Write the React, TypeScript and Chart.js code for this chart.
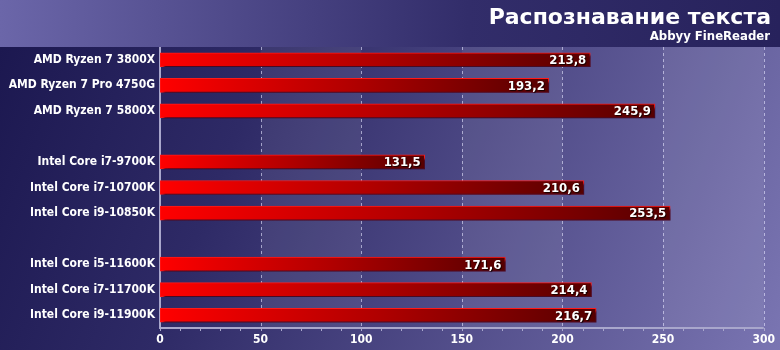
import React, { useEffect, useRef } from "react";
import { Chart, registerables } from "chart.js";

Chart.register(...registerables);

const categories = [
  "AMD Ryzen 7 3800X",
  "AMD Ryzen 7 Pro 4750G",
  "AMD Ryzen 7 5800X",
  "",
  "Intel Core i7-9700K",
  "Intel Core i7-10700K",
  "Intel Core i9-10850K",
  "",
  "Intel Core i5-11600K",
  "Intel Core i7-11700K",
  "Intel Core i9-11900K",
];
const values: (number | null)[] = [213.8, 193.2, 245.9, null, 131.5, 210.6, 253.5, null, 171.6, 214.4, 216.7];
const xTicks = [0, 50, 100, 150, 200, 250, 300];
const minorStep = 10;
const titleText = "Распознавание текста";
const subtitleText = "Abbyy FineReader";

const FONT = "'DejaVu Sans Condensed', 'DejaVu Sans', Verdana, sans-serif";
const TITLE_FONT = "'DejaVu Sans', Verdana, sans-serif";
const W = 780;
const H = 350;
const HEADER = 47;

const bgPlugin = {
  id: "bgPlugin",
  beforeDraw(chart: any) {
    const { ctx, chartArea } = chart;
    const xs = chart.scales.x;
    ctx.save();
    // body gradient
    const g = ctx.createLinearGradient(0, HEADER, W, H);
    g.addColorStop(0, "#1c1850");
    g.addColorStop(0.3, "#2e2a66");
    g.addColorStop(1, "#7a75b2");
    ctx.fillStyle = g;
    ctx.fillRect(0, 0, W, H);
    // header
    const hg = ctx.createLinearGradient(0, 0, W, 0);
    hg.addColorStop(0, "#6b66a9");
    hg.addColorStop(0.6, "#322d6a");
    hg.addColorStop(1, "#27225c");
    ctx.fillStyle = hg;
    ctx.fillRect(0, 0, W, HEADER);
    // stripes
    ctx.fillStyle = "rgba(255,255,255,0.07)";
    for (let i = 1; i < xTicks.length; i += 2) {
      const a = xs.getPixelForValue(xTicks[i]);
      const b = xs.getPixelForValue(xTicks[i + 1] ?? xTicks[i]);
      ctx.fillRect(a, chartArea.top, b - a, chartArea.bottom - chartArea.top);
    }
    // dashed grid lines
    ctx.strokeStyle = "rgba(230,230,255,0.6)";
    ctx.lineWidth = 1;
    ctx.setLineDash([3, 3]);
    for (let i = 1; i < xTicks.length; i++) {
      const x = Math.round(xs.getPixelForValue(xTicks[i])) + 0.5;
      ctx.beginPath();
      ctx.moveTo(x, chartArea.top);
      ctx.lineTo(x, chartArea.bottom);
      ctx.stroke();
    }
    ctx.setLineDash([]);
    // axes
    ctx.strokeStyle = "#a9a7cc";
    ctx.lineWidth = 2;
    const x0 = Math.round(xs.getPixelForValue(0));
    ctx.beginPath();
    ctx.moveTo(x0, chartArea.top);
    ctx.lineTo(x0, chartArea.bottom + 1);
    ctx.stroke();
    ctx.beginPath();
    ctx.moveTo(x0 - 1, chartArea.bottom);
    ctx.lineTo(chartArea.right, chartArea.bottom);
    ctx.stroke();
    // minor ticks
    ctx.lineWidth = 1;
    for (let v = 0; v <= xTicks[xTicks.length - 1]; v += minorStep) {
      const x = Math.round(xs.getPixelForValue(v)) + 0.5;
      ctx.beginPath();
      ctx.moveTo(x, chartArea.bottom);
      ctx.lineTo(x, chartArea.bottom + 3);
      ctx.stroke();
    }
    // titles
    ctx.fillStyle = "#ffffff";
    ctx.textAlign = "right";
    ctx.textBaseline = "alphabetic";
    ctx.font = `bold 22px ${TITLE_FONT}`;
    ctx.fillText(titleText, 771, 24);
    ctx.font = `bold 13px ${FONT}`;
    ctx.fillText(subtitleText, 770, 40);
    ctx.restore();
  },
  beforeDatasetDraw(chart: any) {
    const ctx = chart.ctx;
    ctx.save();
    ctx.shadowColor = "rgba(10,5,40,0.75)";
    ctx.shadowOffsetX = 3;
    ctx.shadowOffsetY = 3;
    ctx.shadowBlur = 2;
  },
  afterDatasetDraw(chart: any) {
    chart.ctx.restore();
  },
  afterDatasetsDraw(chart: any) {
    const ctx = chart.ctx;
    const meta = chart.getDatasetMeta(0);
    ctx.save();
    ctx.font = `bold 13px ${FONT}`;
    ctx.textAlign = "right";
    ctx.textBaseline = "middle";
    ctx.fillStyle = "#ffffff";
    ctx.shadowColor = "rgba(0,0,0,0.8)";
    ctx.shadowOffsetX = 1;
    ctx.shadowOffsetY = 1;
    ctx.shadowBlur = 1;
    meta.data.forEach((el: any, i: number) => {
      const v = values[i];
      if (v == null) return;
      ctx.fillText(v.toFixed(1).replace(".", ","), el.x - 4, el.y + 1);
    });
    ctx.restore();
  },
};

export default function App() {
  const ref = useRef<HTMLCanvasElement>(null);
  useEffect(() => {
    document.body.style.margin = "0";
    const canvas = ref.current!;
    const chart = new Chart(canvas, {
      type: "bar",
      data: {
        labels: categories,
        datasets: [
          {
            data: values as any,
            barThickness: 14,
            borderWidth: 1,
            borderSkipped: false,
            borderColor: "#ff1a1a",
            backgroundColor: (c: any) => {
              const chart = c.chart;
              const xs = chart.scales?.x;
              const v = values[c.dataIndex];
              if (!xs || v == null || !chart.chartArea) return "#d00000";
              const a = xs.getPixelForValue(0);
              const b = xs.getPixelForValue(v);
              const g = chart.ctx.createLinearGradient(a, 0, b, 0);
              g.addColorStop(0, "#ff0000");
              g.addColorStop(0.5, "#b00000");
              g.addColorStop(1, "#560000");
              return g;
            },
          },
        ],
      },
      options: {
        indexAxis: "y",
        responsive: false,
        animation: false,
        devicePixelRatio: 1,
        layout: { padding: { top: HEADER, right: 15, left: 0, bottom: 0 } },
        plugins: { legend: { display: false }, tooltip: { enabled: false } },
        scales: {
          x: {
            min: 0,
            max: 300,
            afterBuildTicks: (s: any) => {
              s.ticks = xTicks.map((v) => ({ value: v }));
            },
            afterFit: (s: any) => {
              s.height = 22;
            },
            grid: { display: false, drawTicks: false, tickLength: 0 },
            border: { display: false },
            ticks: { color: "#ffffff", font: { family: FONT, size: 12, weight: "bold" }, padding: 5, maxRotation: 0 },
          },
          y: {
            afterFit: (s: any) => {
              s.width = 160;
            },
            grid: { display: false, drawTicks: false, tickLength: 0 },
            border: { display: false },
            ticks: { color: "#ffffff", font: { family: FONT, size: 12, weight: "bold" }, padding: 5, autoSkip: false },
          },
        },
      } as any,
      plugins: [bgPlugin],
    });
    return () => chart.destroy();
  }, []);
  return (
    <div style={{ position: "absolute", left: 0, top: 0, width: W, height: H }}>
      <canvas ref={ref} width={W} height={H} style={{ width: W, height: H, display: "block" }} />
    </div>
  );
}
